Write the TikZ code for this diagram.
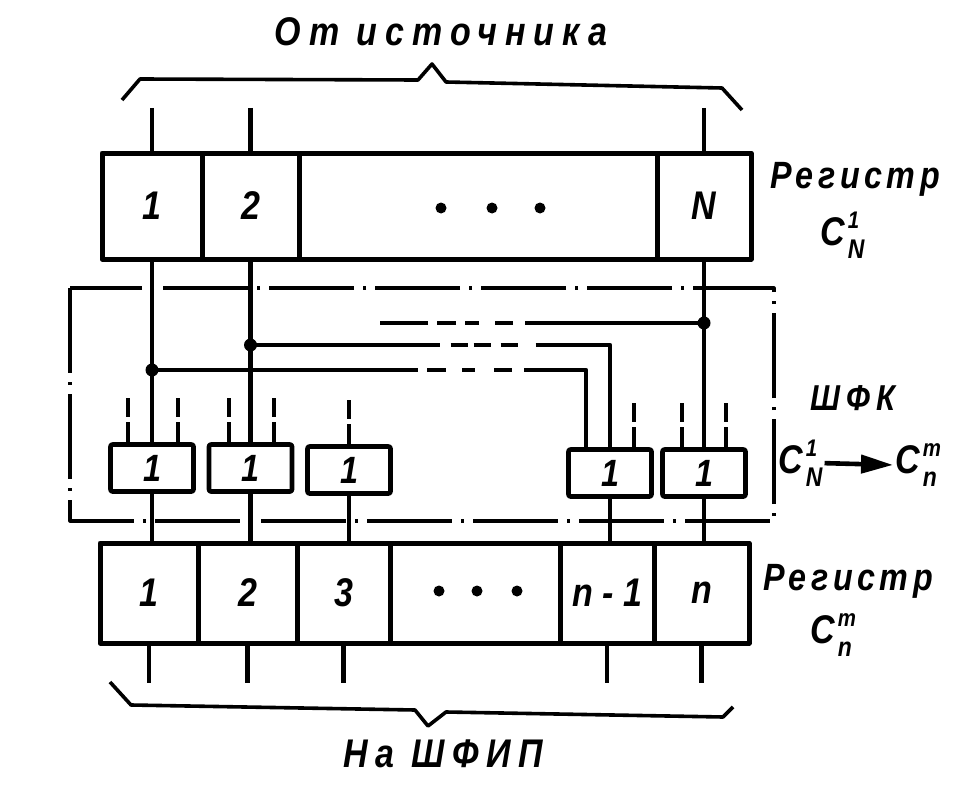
\documentclass[tikz,border=0pt]{standalone}
\usepackage{fontspec}
\setmainfont{Liberation Sans}
\newfontfamily\gost[FakeStretch=0.85]{Liberation Sans}
\usetikzlibrary{arrows.meta,calc}
\newcommand{\gs}[1]{\fontsize{#1}{#1}\selectfont}
\newcommand{\ls}[1]{\addfontfeature{LetterSpace=#1}}
\newcommand{\Csub}[2]{C\kern3pt\rlap{\raisebox{0.42em}{\gs{24}#1}}\raisebox{-0.34em}{\gs{27}#2}}
\begin{document}
\begin{tikzpicture}[x=1pt,y=-1pt, line join=round,
  wire/.style={line width=4.6pt},
  cell/.style={draw, line width=5pt, inner sep=0pt, font=\gost\bfseries\itshape\gs{40}},
  gate/.style={draw, line width=4.6pt, rounded corners=2pt, minimum width=83pt, minimum height=47pt, inner sep=0pt, font=\gost\bfseries\itshape\gs{38}},
  stub/.style={line width=4pt, dash pattern=on 19pt off 5pt on 100pt},
  frame/.style={line width=3.2pt, dash pattern=on 85pt off 9pt on 3pt off 9pt},
  brace/.style={line width=3.6pt},
  lbl/.style={inner sep=0pt, font=\gost\bfseries\itshape\gs{36}},
  jdot/.style={circle, fill, inner sep=0pt, minimum size=13pt},
  rdot/.style={circle, fill, inner sep=0pt, minimum size=11pt}
]
\useasboundingbox (0,0) rectangle (970,800);

% ---- top register C_N^1
\node[cell, minimum width=100pt, minimum height=106pt] (t1) at (152,206) {1};
\node[cell, minimum width=97pt, minimum height=106pt] (t2) at (250.5,206) {2};
\node[cell, minimum width=358pt, minimum height=106pt] (td) at (478,206) {};
\node[cell, minimum width=94pt, minimum height=106pt] (tN) at (704,206) {N};
\node[rdot] (td1) at (441,208) {};
\node[rdot] (td2) at (492,208) {};
\node[rdot] (td3) at (540,208) {};

% ---- inputs
\coordinate (i1) at (152,108);
\coordinate (i2) at (250.5,108);
\coordinate (iN) at (704,108);
\draw[wire] (i1) -- (t1.north);
\draw[wire] (i2) -- (t2.north);
\draw[wire] (iN) -- (tN.north);

% ---- OR gates
\node[gate] (g1) at (152,468) {1};
\node[gate] (g2) at (250.5,468) {1};
\node[gate] (g3) at (349,470) {1};
\node[gate] (g4) at (610,473) {1};
\node[gate] (g5) at (704,473) {1};

% ---- bottom register C_n^m
\node[cell, minimum width=98pt, minimum height=100pt] (b1) at (149,593) {1};
\node[cell, minimum width=99pt, minimum height=100pt] (b2) at (247.5,593) {2};
\node[cell, minimum width=93pt, minimum height=100pt] (b3) at (343.5,593) {3};
\node[cell, minimum width=170pt, minimum height=100pt] (bd) at (475,593) {};
\node[cell, minimum width=94pt, minimum height=100pt] (bn1) at (607,593) {n - 1};
\node[cell, minimum width=95pt, minimum height=100pt] (bn) at (701.5,593) {n};
\node[rdot] (bd1) at (439,591) {};
\node[rdot] (bd2) at (477,591) {};
\node[rdot] (bd3) at (517,591) {};

% ---- junctions
\node[jdot] (j1) at (152,370) {};
\node[jdot] (j2) at (250.5,345) {};
\node[jdot] (j3) at (704,323) {};

% ---- vertical wires register -> gates
\draw[wire] (t1.south) -- (g1.north);
\draw[wire] (t2.south) -- (g2.north);
\draw[wire] (tN.south) -- (g5.north);

% ---- cross wires
\coordinate (g4a) at ($(g4.north)+(-24,0)$);
\draw[wire, dash pattern=on 266pt off 9pt on 19pt off 16pt on 13pt off 19pt on 18pt off 12pt on 1000pt]
  (j1.center) -| (g4a);
\draw[wire, dash pattern=on 189pt off 11pt on 17pt off 6pt on 17pt off 10pt on 17pt off 18pt on 1000pt]
  (j2.center) -| (g4.north);
\coordinate (l3end) at (379,323);
\draw[wire, dash pattern=on 179pt off 12pt on 18pt off 16pt on 14pt off 9pt on 19pt off 9pt on 48pt]
  (j3.center) -- (l3end);

% ---- dashed gate input stubs
\foreach \g/\dx in {g1/-24, g1/26, g2/-22, g2/23, g3/0, g4/24, g5/-22, g5/22}
  \draw[stub] ($(\g.north)+(\dx,-44)$) -- ($(\g.north)+(\dx,0)$);

% ---- gate outputs
\draw[wire] (g1.south) -- (g1.south |- b1.north);
\draw[wire] (g2.south) -- (g2.south |- b2.north);
\draw[wire] (g3.south) -- (g3.south |- b3.north);
\draw[wire] (g4.south) -- (g4.south |- bn1.north);
\draw[wire] (g5.south) -- (g5.south |- bn.north);

% ---- outputs
\draw[wire] (b1.south) -- ++(0,37);
\draw[wire] (b2.south) -- ++(0,37);
\draw[wire] (b3.south) -- ++(0,37);
\draw[wire] (bn1.south) -- ++(0,37);
\draw[wire] (bn.south) -- ++(0,37);

% ---- dash-dot frame of the ШФК
\draw[frame] (70,288) rectangle (774,521);

% ---- braces
\draw[brace] (122,100) -- (140,79) -- (418,80) -- (432,64) -- (446,82) -- (722,88) -- (742,110);
\draw[brace] (110,682) -- (131,705) -- (415,710) -- (428,726) -- (446,712) -- (723,717) -- (733,707);

% ---- texts
\node[lbl, anchor=base, font=\gost\bfseries\itshape\gs{40}\ls{20}] (src) at (441,46) {От источника};
\node[lbl, anchor=base, font=\gost\bfseries\itshape\gs{40}\ls{19}] (dst) at (443,767) {На ШФИП};
\node[lbl, anchor=base, font=\gost\bfseries\itshape\gs{38}\ls{12}] (r1) at (855,188) {Регистр};
\node[lbl, anchor=base west, font=\gost\bfseries\itshape\gs{40}] (c1) at (820,245) {\Csub{1}{N}};
\node[lbl, anchor=base, font=\gost\bfseries\itshape\gs{36}\ls{18}] (shfk) at (853,410) {ШФК};
\node[lbl, anchor=base west, font=\gost\bfseries\itshape\gs{40}] (cA) at (778,473) {\Csub{1}{N}};
\node[lbl, anchor=base west, font=\gost\bfseries\itshape\gs{40}] (cB) at (895,473) {\Csub{m}{n}};
\draw[line width=4.6pt, -{Triangle[length=32pt,width=18pt]}] ($(cA.east)+(2,0)$) -- ($(cB.west)+(-2,0)$);
\node[lbl, anchor=base, font=\gost\bfseries\itshape\gs{38}\ls{12}] (r2) at (848,590) {Регистр};
\node[lbl, anchor=base west, font=\gost\bfseries\itshape\gs{40}] (c2) at (810,643) {\Csub{m}{n}};
\end{tikzpicture}
\end{document}
